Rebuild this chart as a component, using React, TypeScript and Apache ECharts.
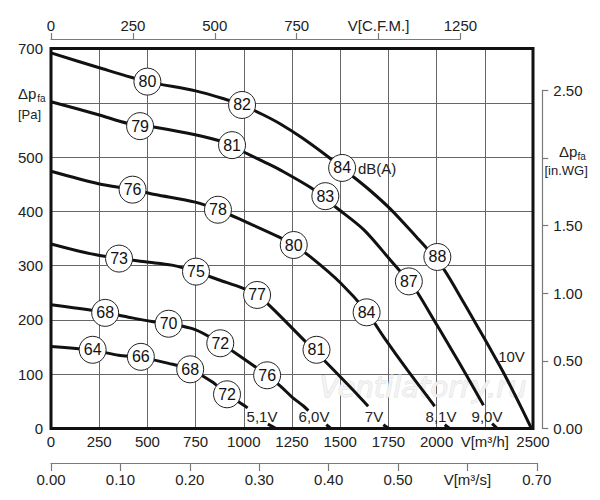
import React, { useEffect, useRef } from "react";
import * as echarts from "echarts";

// ---- data (airflow V in m³/h, static pressure Δp in Pa) ----
const curve10V = [[0,692],[246,665],[500,639],[750,622],[900,607],[991,596],[1100,578],[1190,561],[1300,536],[1432,502],[1510,480],[1640,443],[1761,404],[1900,351],[1951,331],[2038,293],[2142,231],[2212,188],[2281,145],[2350,101],[2419,53],[2492,0]];
const curve9V = [[0,602],[246,578],[400,562],[540,555],[748,541],[900,527],[1008,508],[1100,492],[1190,476],[1363,440],[1476,408],[1623,366],[1761,310],[1856,271],[1891,256],[1986,200],[2073,148],[2160,95],[2243,43]];
const curve8V = [[0,474],[246,451],[423,440],[540,431],[748,417],[866,403],[1008,381],[1181,353],[1259,338],[1346,316],[1502,268],[1637,215],[1727,168],[1848,108],[1969,51],[1990,41]];
const curve7V = [[0,340],[246,319],[488,307],[627,301],[752,289],[869,274],[991,259],[1068,246],[1138,225],[1320,160],[1424,123],[1553,76],[1645,41]];
const curve6V = [[0,228],[246,216],[402,205],[523,197],[610,193],[748,182],[878,157],[973,135],[1120,98],[1190,78],[1250,58],[1311,41],[1335,33]];
const curve5V = [[0,151],[216,144],[350,135],[466,131],[610,120],[722,109],[835,86],[913,64],[1008,41],[1020,38]];

const tail9V = [[2288,9],[2315,0]];
const tail8V = [[2042,7],[2068,0]];
const tail7V = [[1724,7],[1752,0]];
const tail6V = [[1428,7],[1452,0]];
const tail5V = [[1125,8],[1168,0]];

// sound level markers [V, Δp, dB(A)]
const marks10V = [[500,639,80],[991,596,82],[1510,480,84],[2004,316,88]];
const marks9V = [[462,557,79],[939,522,81],[1423,428,83],[1856,271,87]];
const marks8V = [[423,440,76],[866,403,78],[1259,338,80],[1637,214,84]];
const marks7V = [[353,313,73],[752,289,75],[1069,246,77],[1377,145,81]];
const marks6V = [[281,213,68],[610,193,70],[878,157,72],[1121,98,76]];
const marks5V = [[216,145,64],[466,132,66],[722,109,68],[913,63,72]];

const voltageLabels = ["5,1V", "6,0V", "7V", "8,1V", "9,0V", "10V"];

// axes
const FLOW_MAX = 2500; // m³/h
const PRESS_MAX = 700; // Pa
const CFM_MAX = 1250;
const M3S_MAX = 0.7;
const INWG_MAX = 2.5;
const CFM_PER_M3H = 1 / 1.69901;
const PA_PER_INWG = 249.089;

const FONT = '"Liberation Sans", Arial, Helvetica, sans-serif';
const TXT = "#222";
const AX = "#7a7a7a";

// layout
const L = 51, T = 48.5, W = 482, H = 380;

export default function App() {
  const ref = useRef<HTMLDivElement>(null);

  useEffect(() => {
    if (!ref.current) return;
    const chart = echarts.init(ref.current, undefined, { renderer: "svg" });
    const pxPerM3h = W / FLOW_MAX;
    const pxPerPa = H / PRESS_MAX;
    const cfmWidth = (CFM_MAX / CFM_PER_M3H) * pxPerM3h;
    const m3sWidth = M3S_MAX * 3600 * pxPerM3h;
    const inwgHeight = INWG_MAX * PA_PER_INWG * pxPerPa;

    const lineSeries = (data: number[][]) => ({
      type: "line",
      data,
      xAxisIndex: 0,
      yAxisIndex: 0,
      smooth: 0.3,
      symbol: "none",
      silent: true,
      lineStyle: { color: "#111", width: 3 },
      z: 2,
    });
    const markSeries = (data: number[][]) => ({
      type: "scatter",
      data,
      xAxisIndex: 0,
      yAxisIndex: 0,
      symbol: "circle",
      symbolSize: 27,
      silent: true,
      itemStyle: { color: "#fff", borderColor: "#222", borderWidth: 1, opacity: 1 },
      label: {
        show: true,
        position: "inside",
        formatter: (p: any) => String(p.data[2]),
        fontSize: 16,
        color: "#111",
        opacity: 1,
        textBorderWidth: 0,
        textBorderColor: "transparent",
        fontFamily: FONT,
      },
      z: 3,
    });

    const txt = (text: string, x: number, y: number, size: number, align = "left", extra: any = {}) => ({
      type: "text",
      x,
      y,
      z: 20,
      silent: true,
      style: {
        text,
        fontSize: size,
        fontFamily: FONT,
        fill: TXT,
        textAlign: align,
        align,
        textVerticalAlign: "middle",
        verticalAlign: "middle",
        ...extra,
      },
    });

    const vlPos = [[262, 416.5], [314, 416.5], [374, 416.5], [441, 416.5], [487, 416.5], [511.5, 356.5]];

    const axisLabelBase = { fontSize: 15, fontFamily: FONT, color: TXT };

    chart.setOption({
      animation: false,
      backgroundColor: "#fff",
      grid: [
        { left: L, top: T, width: W, height: H },
        { left: L, top: 38, width: cfmWidth, height: 1 },
        { left: L, top: 462, width: m3sWidth, height: 1 },
        { left: 542.3, top: T + H - inwgHeight, width: 1, height: inwgHeight },
      ],
      xAxis: [
        {
          gridIndex: 0, type: "value", min: 0, max: FLOW_MAX, interval: 250, position: "bottom",
          axisLine: { show: false }, axisTick: { show: false },
          axisLabel: { ...axisLabelBase, margin: 5, formatter: (v: number) => (v === 2250 ? "V[m³/h]" : String(v)) },
          splitLine: { show: true, lineStyle: { color: "#666", width: 1 } },
        },
        {
          gridIndex: 1, type: "value", min: 0, max: CFM_MAX, interval: 250, position: "top",
          axisLine: { show: true, lineStyle: { color: AX, width: 1.2 } },
          axisTick: { show: true, length: 6, lineStyle: { color: AX, width: 1.2 } },
          axisLabel: { ...axisLabelBase, margin: 5, formatter: (v: number) => (v === 1000 ? "V[C.F.M.]" : String(v)) },
          splitLine: { show: false },
        },
        {
          gridIndex: 2, type: "value", min: 0, max: M3S_MAX, interval: 0.1, position: "bottom",
          axisLine: { show: true, lineStyle: { color: AX, width: 1.2 } },
          axisTick: { show: true, length: 8, lineStyle: { color: AX, width: 1.2 } },
          axisLabel: {
            ...axisLabelBase, margin: 9,
            formatter: (v: number) => (Math.abs(v - 0.6) < 1e-6 ? "V[m³/s]" : v.toFixed(2)),
          },
          splitLine: { show: false },
        },
        { gridIndex: 3, type: "value", show: false, min: 0, max: 1 },
      ],
      yAxis: [
        {
          gridIndex: 0, type: "value", min: 0, max: PRESS_MAX, interval: 100, position: "left",
          axisLine: { show: false }, axisTick: { show: false },
          axisLabel: { ...axisLabelBase, margin: 8, formatter: (v: number) => (v === 600 ? "" : String(v)) },
          splitLine: { show: true, lineStyle: { color: "#666", width: 1 } },
        },
        { gridIndex: 1, type: "value", show: false, min: 0, max: 1 },
        { gridIndex: 2, type: "value", show: false, min: 0, max: 1 },
        {
          gridIndex: 3, type: "value", min: 0, max: INWG_MAX, interval: 0.5, position: "right",
          axisLine: { show: true, lineStyle: { color: AX, width: 1.2 } },
          axisTick: { show: true, length: 6, lineStyle: { color: AX, width: 1.2 } },
          axisLabel: {
            ...axisLabelBase, margin: 10,
            formatter: (v: number) => (Math.abs(v - 2) < 1e-6 ? "" : v.toFixed(2)),
          },
          splitLine: { show: false },
        },
      ],
      series: [
        lineSeries(curve10V), lineSeries(curve9V), lineSeries(curve8V),
        lineSeries(curve7V), lineSeries(curve6V), lineSeries(curve5V),
        lineSeries(tail9V), lineSeries(tail8V), lineSeries(tail7V),
        lineSeries(tail6V), lineSeries(tail5V),
        markSeries(marks10V), markSeries(marks9V), markSeries(marks8V),
        markSeries(marks7V), markSeries(marks6V), markSeries(marks5V),
      ],
      graphic: [
        {
          type: "text", x: 423, y: 387, z: 1, silent: true,
          style: {
            text: "Ventilatorry.ru", fontSize: 29, fontStyle: "italic",
            fontFamily: '"DejaVu Sans", sans-serif',
            fill: "#f3f3f3", stroke: "#dadada", lineWidth: 0.8,
            textAlign: "center", align: "center", textVerticalAlign: "middle", verticalAlign: "middle",
          },
        },
        {
          type: "rect", z: 30, silent: true,
          shape: { x: L, y: T, width: W, height: H },
          style: { fill: "none", stroke: "#111", lineWidth: 3 },
        },
        txt("Δp", 18, 93.5, 15),
        txt("fa", 37.3, 98.5, 10),
        txt("[Pa]", 18, 114, 13),
        txt("Δp", 559, 151.5, 15),
        txt("fa", 577.5, 156, 10),
        txt("[in.WG]", 544.5, 170.5, 13),
        txt("dB(A)", 358, 168, 15),
        ...voltageLabels.map((s, i) => txt(s, vlPos[i][0], vlPos[i][1], 15, "center")),
      ],
    });
    return () => chart.dispose();
  }, []);

  return (
    <div
      ref={ref}
      style={{ position: "fixed", left: 0, top: 0, width: 600, height: 500, background: "#fff" }}
    />
  );
}
